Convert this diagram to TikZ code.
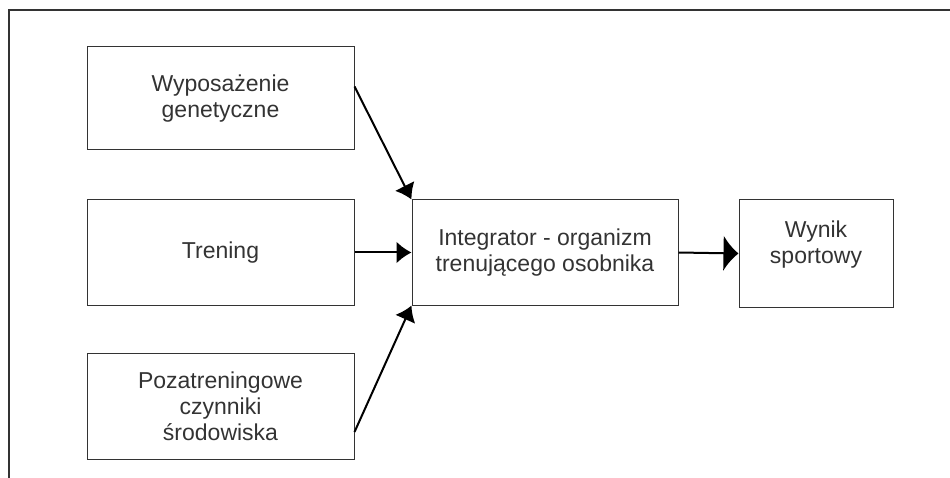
\documentclass[tikz,border=0pt]{standalone}
\usepackage{fontspec}
\setmainfont{Liberation Sans}
\usetikzlibrary{calc, positioning, arrows.meta}

\tikzset{
  blok/.style={draw=black!80, line width=1pt, align=center, inner sep=0pt,
    text=black!80, font=\fontsize{23}{26}\selectfont},
  strzalka/.style={line width=2pt, -{Latex[length=15pt, width=22pt]}}
}

\begin{document}
\begin{tikzpicture}[x=1pt, y=-1pt]
  \useasboundingbox (0,0) rectangle (950,478);

  % Outer frame (top and left only)
  \draw[black!80, line width=1.5pt] (9,478) -- (9,10) -- (950,10);

  % Input blocks
  \node[blok, minimum width=267pt, minimum height=103pt] (gen) at (220.5,98.5)
    {Wyposażenie\\genetyczne};
  \node[blok, minimum width=267pt, minimum height=105pt] (tren) at (220.5,252.5)
    {Trening};
  \node[blok, minimum width=267pt, minimum height=106pt] (env) at (220.5,406)
    {Pozatreningowe\\czynniki\\środowiska};

  % Integrator
  \node[blok, minimum width=266pt, minimum height=105pt] (integ) at (545,252.5)
    {Integrator - organizm\\trenującego osobnika};

  % Result
  \node[blok, minimum width=154pt, minimum height=107pt] (wynik) at (816,253.5) {};
  \node[text=black!80, font=\fontsize{23}{26}\selectfont, align=center, inner sep=0pt]
    (wyniktxt) at (816,245) {Wynik\\sportowy};

  % Arrow start points
  \coordinate (genout) at ([yshift=12pt]gen.east);
  \coordinate (envout) at ([yshift=-26pt]env.east);

  % Arrows
  \draw[strzalka] (genout) -- (integ.north west);
  \draw[strzalka] (tren.east) -- (tren.east -| integ.west);
  \draw[strzalka] (envout) -- (integ.south west);
  \draw[line width=2pt, -{Latex[length=15pt, width=36pt]}] (integ.east) -- (wynik.west);
\end{tikzpicture}
\end{document}
